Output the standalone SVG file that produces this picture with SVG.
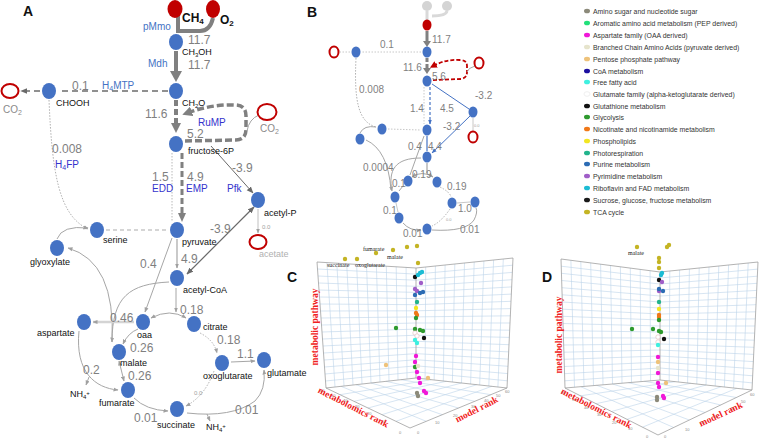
<svg xmlns="http://www.w3.org/2000/svg" width="760" height="439" viewBox="0 0 760 439">
<style>
text{font-family:"Liberation Sans",Arial,sans-serif}
.n{fill:#4472c4}
.rf{fill:#c00000}
.ro{fill:none;stroke:#c00000;stroke-width:2}
.num{fill:#7f7f7f;font-size:12px}
.nb{fill:#7f7f7f;font-size:10px}
.tiny{fill:#9a9a9a;font-size:5px}
.lbl{fill:#111;font-size:9px}
.enz{fill:#4472c4;font-size:10px}
.enz2{fill:#3333cc;font-size:10px}
.pl{font-size:14px;font-weight:bold;fill:#111}
.thin{fill:none;stroke:#a6a6a6;stroke-width:1}
.dot{fill:none;stroke:#b0b0b0;stroke-width:1;stroke-dasharray:1.5 1.5}
.thk{fill:none;stroke:#808080;stroke-width:4}
.thkd{fill:none;stroke:#808080;stroke-width:3.5;stroke-dasharray:7 3}
.blue{fill:none;stroke:#4472c4;stroke-width:1}
.grid{fill:none;stroke:#bcd3ea;stroke-width:0.6}
.edge{fill:none;stroke:#a0a0a0;stroke-width:0.8}
.ax{font-family:"Liberation Serif","Times New Roman",serif;font-weight:bold;font-size:9.5px;fill:#f02020}
.tk{font-size:4px;fill:#888}
.tl{font-family:"Liberation Serif",serif;font-size:6px;fill:#222}
.lg{font-size:6.9px;fill:#333}
.am{fill:#8c8a7a}.ar{fill:#22e07a}.as{fill:#f018d8}.br{fill:#e6e4cc}.pp{fill:#eec27a}.co{fill:#1c0fa0}.ff{fill:#3ff0e0}.gf{fill:#fff;stroke:#e0b8b8;stroke-width:0.6}.gt{fill:#111}.gl{fill:#2e9a2e}.ni{fill:#f07818}.ph{fill:#f2e622}.pr{fill:#22b48c}.pu{fill:#2c6cb4}.py{fill:#a05ec8}.ri{fill:#1cbcd4}.su{fill:#1a1a1a}.tc{fill:#c4b424}
</style>
<defs>
<marker id="ag" viewBox="0 0 10 10" refX="9" refY="5" markerWidth="5" markerHeight="5" markerUnits="userSpaceOnUse" orient="auto-start-reverse"><path d="M0,1 L10,5 L0,9 z" fill="#a0a0a0"/></marker>
<marker id="ad" viewBox="0 0 10 10" refX="9" refY="5" markerWidth="7" markerHeight="7" markerUnits="userSpaceOnUse" orient="auto-start-reverse"><path d="M0,1 L10,5 L0,9 z" fill="#6a6a6a"/></marker>
<marker id="at" viewBox="0 0 10 10" refX="5" refY="5" markerWidth="10" markerHeight="10" markerUnits="userSpaceOnUse" orient="auto"><path d="M0,0 L10,5 L0,10 z" fill="#808080"/></marker>
<marker id="ab" viewBox="0 0 10 10" refX="9" refY="5" markerWidth="5" markerHeight="5" markerUnits="userSpaceOnUse" orient="auto"><path d="M0,1 L10,5 L0,9 z" fill="#4472c4"/></marker>
<marker id="ar" viewBox="0 0 10 10" refX="5" refY="5" markerWidth="7" markerHeight="7" markerUnits="userSpaceOnUse" orient="auto"><path d="M0,0 L10,5 L0,10 z" fill="#c00000"/></marker>
</defs>

<!-- ================= PANEL A ================= -->
<text class="pl" x="23" y="16">A</text>
<g id="A-connectors">
<path class="thk" d="M178,16 L178,31 L200,31 Q210,31 213,18"/>
<line x1="176" y1="51" x2="176" y2="72" stroke="#808080" stroke-width="4"/>
<polygon points="170,71 182,71 176,82" fill="#808080"/>
<line x1="168" y1="91" x2="58" y2="91" stroke="#909090" stroke-width="1.8" stroke-dasharray="6 4"/>
<line x1="40" y1="91" x2="21" y2="91" stroke="#909090" stroke-width="1.8" stroke-dasharray="6 4" marker-end="url(#ad)"/>
<line x1="176" y1="100" x2="176" y2="124" stroke="#808080" stroke-width="4" stroke-dasharray="6 3"/>
<polygon points="171,123 181,123 176,133" fill="#808080"/>
<path class="thkd" d="M185,141 L236,140 Q246,140 246,129 L246,116 Q246,105 235,105 Q212,104 187,113" marker-end="url(#at)"/>
<path class="thin" d="M259,115 Q249,119 247,131"/>
<line x1="172" y1="153" x2="172" y2="221" stroke="#b8b8b8" stroke-width="1" stroke-dasharray="1.5 1.5"/>
<line x1="182" y1="153" x2="182" y2="214" stroke="#808080" stroke-width="3" stroke-dasharray="6 3"/>
<polygon points="178,213 186,213 182,222" fill="#808080"/>
<line x1="211" y1="146" x2="253" y2="193" stroke="#6a6a6a" stroke-width="1" marker-end="url(#ad)"/>
<line x1="254" y1="207" x2="187" y2="274" stroke="#6a6a6a" stroke-width="1.2" marker-start="url(#ad)" marker-end="url(#ad)"/>
<line x1="258" y1="209" x2="258" y2="233" stroke="#c0c0c0" stroke-width="1" marker-end="url(#ag)"/>
<path class="dot" d="M49,100 C52,170 58,215 88,229" marker-end="url(#ag)"/>
<line x1="106" y1="230" x2="168" y2="230" stroke="#c8c8c8" stroke-width="1.3" stroke-dasharray="4 3"/>
<path class="thin" d="M57,239 Q62,225 88,228" marker-end="url(#ag)"/>
<path class="thin" d="M68,248 Q116,262 112,342" marker-start="url(#ag)" marker-end="url(#ag)"/>
<path class="thin" d="M169,282 C130,284 112,296 112,342"/>
<path class="thin" d="M172,238 L145,312" marker-end="url(#ag)"/>
<line x1="177" y1="239" x2="177" y2="268" stroke="#a6a6a6" stroke-width="1.2" marker-end="url(#ag)"/>
<line x1="176" y1="288" x2="176" y2="312" stroke="#a6a6a6" stroke-width="1" marker-end="url(#ag)"/>
<path class="thin" d="M151,318 Q170,308 186,318" marker-start="url(#ag)" marker-end="url(#ag)"/>
<line x1="134" y1="322" x2="93" y2="322" stroke="#d4d4d4" stroke-width="2.5" marker-end="url(#ag)"/>
<path class="thin" d="M138,329 Q128,333 123,344" marker-end="url(#ag)"/>
<line x1="119" y1="361" x2="124" y2="381" stroke="#a6a6a6" stroke-width="1" marker-start="url(#ag)" marker-end="url(#ag)"/>
<path class="thin" d="M79,331 C75,372 95,388 118,390" marker-end="url(#ag)"/>
<path class="thin" d="M89,377 L86,385" marker-end="url(#ag)"/>
<path class="thin" d="M134,398 Q146,410 168,411" marker-end="url(#ag)"/>
<path class="dot" d="M200,333 Q214,340 217,353" marker-end="url(#ag)"/>
<line x1="231" y1="362" x2="255" y2="361" stroke="#a6a6a6" stroke-width="1" marker-end="url(#ag)"/>
<path class="dot" d="M214,371 Q205,396 186,406" marker-end="url(#ag)"/>
<path class="thin" d="M187,413 Q232,418 255,401 Q266,390 264,370" marker-end="url(#ag)"/>
<path class="thin" d="M207,414 L210,421" marker-end="url(#ag)"/>
</g>
<g id="A-nodes">
<g id="ch4"><ellipse class="rf" cx="175" cy="9" rx="7.5" ry="9"/><text x="182" y="22" font-size="12" font-weight="bold" fill="#111">CH<tspan font-size="8" dy="2">4</tspan></text></g>
<g id="o2"><ellipse class="rf" cx="213" cy="9" rx="7" ry="9"/><text x="220" y="24" font-size="12" font-weight="bold" fill="#111">O<tspan font-size="8" dy="2">2</tspan></text></g>
<g id="ch3oh"><ellipse class="n" cx="176" cy="42" rx="7" ry="8"/><text class="lbl" x="182" y="55">CH<tspan font-size="6" dy="1.5">3</tspan><tspan dy="-1.5">OH</tspan></text></g>
<g id="ch2o"><ellipse class="n" cx="176" cy="91" rx="7" ry="8"/><text class="lbl" x="182" y="106">CH<tspan font-size="6" dy="1.5">2</tspan><tspan dy="-1.5">O</tspan></text></g>
<g id="chooh"><ellipse class="n" cx="49" cy="91" rx="7" ry="8"/><text class="lbl" x="56" y="106">CHOOH</text></g>
<g id="co2a"><ellipse class="ro" cx="10" cy="91" rx="8.5" ry="7"/><text x="3" y="113" font-size="10" fill="#8a8a8a">CO<tspan font-size="7" dy="2">2</tspan></text></g>
<g id="co2b"><ellipse class="ro" cx="267" cy="112" rx="9.5" ry="8"/><text x="260" y="132" font-size="10" fill="#8a8a8a">CO<tspan font-size="7" dy="2">2</tspan></text></g>
<g id="f6p"><ellipse class="n" cx="176" cy="144" rx="7" ry="8"/><text class="lbl" x="188" y="154">fructose-6P</text></g>
<g id="acetylp"><ellipse class="n" cx="258" cy="200" rx="7" ry="8"/><text class="lbl" x="264" y="216">acetyl-P</text></g>
<g id="acetate"><ellipse class="ro" cx="258" cy="242" rx="8.5" ry="7"/><text x="259" y="257" font-size="9" fill="#b0b0b0">acetate</text></g>
<g id="serine"><ellipse class="n" cx="97" cy="230" rx="7" ry="8"/><text class="lbl" x="103" y="243">serine</text></g>
<g id="glyoxylate"><ellipse class="n" cx="57" cy="248" rx="7" ry="8"/><text class="lbl" x="30" y="265">glyoxylate</text></g>
<g id="pyruvate"><ellipse class="n" cx="177" cy="230" rx="7" ry="8"/><text class="lbl" x="182" y="245">pyruvate</text></g>
<g id="acetylcoa"><ellipse class="n" cx="177" cy="278" rx="7" ry="8"/><text class="lbl" x="183" y="293">acetyl-CoA</text></g>
<g id="aspartate"><ellipse class="n" cx="84" cy="322" rx="7" ry="8"/><text class="lbl" x="37" y="336">aspartate</text></g>
<g id="oaa"><ellipse class="n" cx="143" cy="322" rx="7" ry="8"/><text class="lbl" x="137" y="338">oaa</text></g>
<g id="citrate"><ellipse class="n" cx="194" cy="324" rx="7" ry="8"/><text class="lbl" x="203" y="330">citrate</text></g>
<g id="malate"><ellipse class="n" cx="119" cy="352" rx="7" ry="8"/><text class="lbl" x="120" y="366">malate</text></g>
<g id="oxoglutarate"><ellipse class="n" cx="222" cy="363" rx="7" ry="8"/><text class="lbl" x="203" y="379">oxoglutarate</text></g>
<g id="glutamate"><ellipse class="n" cx="264" cy="360" rx="7" ry="8"/><text class="lbl" x="267" y="376">glutamate</text></g>
<g id="fumarate"><ellipse class="n" cx="128" cy="390" rx="7" ry="8"/><text class="lbl" x="99" y="406">fumarate</text></g>
<g id="succinate"><ellipse class="n" cx="177" cy="409" rx="7" ry="8"/><text class="lbl" x="157" y="428">succinate</text></g>
</g>
<g id="A-labels">
<text class="enz" x="143" y="30">pMmo</text>
<text class="enz" x="148" y="67">Mdh</text>
<text class="enz" x="102" y="89">H<tspan font-size="7" dy="2">4</tspan><tspan dy="-2">MTP</tspan></text>
<text class="enz2" x="198" y="126">RuMP</text>
<text class="enz2" x="152" y="192">EDD</text>
<text class="enz2" x="186" y="192">EMP</text>
<text class="enz2" x="227" y="192">Pfk</text>
<text class="enz2" x="55" y="168">H<tspan font-size="7" dy="2">4</tspan><tspan dy="-2">FP</tspan></text>
<text class="num" x="188" y="44">11.7</text>
<text class="num" x="188" y="69">11.7</text>
<text class="num" x="72" y="90">0.1</text>
<text class="num" x="145" y="118">11.6</text>
<text class="num" x="187" y="138">5.2</text>
<text class="num" x="232" y="172">-3.9</text>
<text class="num" x="152" y="181">1.5</text>
<text class="num" x="187" y="181">4.9</text>
<text class="num" x="52" y="153">0.008</text>
<text class="num" x="210" y="233">-3.9</text>
<text x="262" y="229" font-size="6" fill="#a0a0a0">0.0</text>
<text class="num" x="181" y="263">4.9</text>
<text class="num" x="140" y="268">0.4</text>
<text class="num" x="110" y="322">0.46</text>
<text class="num" x="180" y="314">0.18</text>
<text class="num" x="217" y="344">0.18</text>
<text class="num" x="130" y="352">0.26</text>
<text class="num" x="128" y="380">0.26</text>
<text class="num" x="237" y="358">1.1</text>
<text class="num" x="83" y="374">0.2</text>
<text class="num" x="134" y="422">0.01</text>
<text class="num" x="235" y="414">0.01</text>
<text x="194" y="395" font-size="6" fill="#a0a0a0">0.0</text>
<text class="lbl" x="70" y="397">NH<tspan font-size="6" dy="1.5">4</tspan><tspan font-size="6" dy="-4">+</tspan></text>
<text class="lbl" x="206" y="430">NH<tspan font-size="6" dy="1.5">4</tspan><tspan font-size="6" dy="-4">+</tspan></text>
</g>

<!-- ================= PANEL B ================= -->
<text class="pl" x="307" y="17">B</text>
<g id="B-connectors">
<path d="M427,11 L427,21 M447,11 Q446,16 432,16" fill="none" stroke="#d9d9d9" stroke-width="3"/>
<line x1="427" y1="31" x2="427" y2="42" stroke="#808080" stroke-width="3"/>
<polygon points="423,41 431,41 427,47" fill="#808080"/>
<line x1="421" y1="52" x2="362" y2="52" stroke="#c8c8c8" stroke-width="1" stroke-dasharray="1.5 1.5"/>
<line x1="350" y1="52" x2="340" y2="52" stroke="#c8c8c8" stroke-width="1" stroke-dasharray="1.5 1.5"/>
<line x1="427" y1="58" x2="427" y2="69" stroke="#808080" stroke-width="3" stroke-dasharray="4 2"/>
<polygon points="423,68 431,68 427,74" fill="#808080"/>
<path d="M433,80 L461,79 Q467,78 467,72 L467,66 Q467,60 460,60 Q446,59 433,66" fill="none" stroke="#c00000" stroke-width="1.8" stroke-dasharray="4 2" marker-end="url(#ar)"/>
<path class="thin" d="M475,66 Q468,68 467,72"/>
<line x1="432" y1="84" x2="469" y2="109" stroke="#4472c4" stroke-width="1"/>
<line x1="473" y1="118" x2="473" y2="131" stroke="#c8c8c8" stroke-width="1"/>
<line x1="424" y1="87" x2="424" y2="124" stroke="#c8c8c8" stroke-width="1" stroke-dasharray="1.5 1.5"/>
<line x1="430" y1="87" x2="430" y2="124" stroke="#4472c4" stroke-width="1.2" stroke-dasharray="3 2" marker-end="url(#ab)"/>
<line x1="470" y1="116" x2="432" y2="153" stroke="#4472c4" stroke-width="1" marker-end="url(#ab)"/>
<line x1="388" y1="129" x2="421" y2="130" stroke="#c8c8c8" stroke-width="1" stroke-dasharray="1.5 1.5"/>
<path class="dot" d="M356,58 C354,100 358,122 376,127"/>
<path class="thin" d="M360,133 Q364,125 376,127" stroke="#c8c8c8"/>
<line x1="427" y1="136" x2="427" y2="151" stroke="#4472c4" stroke-width="1.2"/>
<path class="thin" d="M424,136 L410,175" stroke="#c8c8c8"/>
<line x1="427" y1="163" x2="427" y2="173" stroke="#c8c8c8" stroke-width="2"/>
<path class="thin" d="M412,177 Q422,170 433,177" stroke="#c8c8c8" marker-start="url(#ag)" marker-end="url(#ag)"/>
<path class="thin" d="M421,158 C395,158 388,170 392,191" stroke="#c8c8c8" marker-end="url(#ag)"/>
<path class="thin" d="M366,140 Q388,150 391,190" stroke="#c8c8c8"/>
<path class="thin" d="M403,186 L399,191" stroke="#c8c8c8"/>
<path class="dot" d="M440,187 Q450,192 451,197"/>
<line x1="457" y1="203" x2="470" y2="202" stroke="#c8c8c8" stroke-width="1"/>
<line x1="396" y1="203" x2="398" y2="212" stroke="#c8c8c8" stroke-width="1"/>
<path class="thin" d="M403,223 Q410,231 421,230" stroke="#c8c8c8" marker-end="url(#ag)"/>
<path class="dot" d="M450,209 Q441,222 432,226"/>
<path class="thin" d="M432,230 Q466,232 474,220 Q478,212 476,208" stroke="#c8c8c8"/>
</g>
<g id="B-nodes">
<circle cx="427" cy="6" r="5" fill="#d4d4d4"/>
<circle cx="447" cy="6" r="5" fill="#d4d4d4"/>
<ellipse class="rf" cx="427" cy="25" rx="4.5" ry="5.5"/>
<ellipse class="n" cx="427" cy="52" rx="4.5" ry="5.5"/>
<ellipse class="n" cx="356" cy="52" rx="4.5" ry="5.5"/>
<ellipse class="ro" cx="334" cy="52" rx="4.5" ry="5.5" stroke-width="1.3"/>
<ellipse class="n" cx="427" cy="81" rx="4.5" ry="5.5"/>
<ellipse class="ro" cx="479" cy="63" rx="4.5" ry="5.5" stroke-width="1.3"/>
<ellipse class="n" cx="473" cy="112" rx="4.5" ry="5.5"/>
<ellipse class="ro" cx="473" cy="137" rx="4.5" ry="5.5" stroke-width="1.3"/>
<ellipse class="n" cx="427" cy="130" rx="4.5" ry="5.5"/>
<ellipse class="n" cx="382" cy="129" rx="4.5" ry="5.5"/>
<ellipse class="n" cx="360" cy="139" rx="4.5" ry="5.5"/>
<ellipse class="n" cx="427" cy="157" rx="4.5" ry="5.5"/>
<ellipse class="n" cx="408" cy="181" rx="4.5" ry="5.5"/>
<ellipse class="n" cx="437" cy="182" rx="4.5" ry="5.5"/>
<ellipse class="n" cx="395" cy="197" rx="4.5" ry="5.5"/>
<ellipse class="n" cx="452" cy="203" rx="4.5" ry="5.5"/>
<ellipse class="n" cx="475" cy="202" rx="4.5" ry="5.5"/>
<ellipse class="n" cx="399" cy="218" rx="4.5" ry="5.5"/>
<ellipse class="n" cx="427" cy="229" rx="4.5" ry="5.5"/>
</g>
<g id="B-labels">
<text class="nb" x="432" y="43">11.7</text>
<text class="nb" x="380" y="48">0.1</text>
<text class="nb" x="403" y="71">11.6</text>
<text class="nb" x="432" y="80">5.6</text>
<text class="nb" x="475" y="99">-3.2</text>
<text class="nb" x="359" y="93">0.008</text>
<text class="nb" x="410" y="112">1.4</text>
<text class="nb" x="440" y="112">4.5</text>
<text class="nb" x="443" y="130">-3.2</text>
<text x="474" y="127" font-size="4" fill="#a0a0a0">0.0</text>
<text class="nb" x="408" y="150">0.4</text>
<text class="nb" x="428" y="150">4.4</text>
<text class="nb" x="363" y="171">0.0004</text>
<text class="nb" x="412" y="178">0.19</text>
<text class="nb" x="447" y="190">0.19</text>
<text class="nb" x="392" y="187">0.1</text>
<text class="nb" x="458" y="212">1.0</text>
<text class="nb" x="383" y="214">0.1</text>
<text class="nb" x="403" y="237">0.01</text>
<text class="nb" x="460" y="233">0.01</text>
<text x="446" y="221" font-size="4" fill="#a0a0a0">0.0</text>
</g>

<!-- ================= LEGEND ================= -->
<g id="legend">
<ellipse class="am" cx="587" cy="11" rx="3" ry="2.3"/><text class="lg" x="593" y="13.5">Amino sugar and nucleotide sugar</text>
<ellipse class="ar" cx="587" cy="23" rx="3" ry="2.3"/><text class="lg" x="593" y="25.5">Aromatic amino acid metabolism (PEP derived)</text>
<ellipse class="as" cx="587" cy="35" rx="3" ry="2.3"/><text class="lg" x="593" y="37.5">Aspartate family (OAA derived)</text>
<ellipse class="br" cx="587" cy="47" rx="3" ry="2.3"/><text class="lg" x="593" y="49.5">Branched Chain Amino Acids (pyruvate derived)</text>
<ellipse class="pp" cx="587" cy="59" rx="3" ry="2.3"/><text class="lg" x="593" y="61.5">Pentose phosphate pathway</text>
<ellipse class="co" cx="587" cy="71" rx="3" ry="2.3"/><text class="lg" x="593" y="73.5">CoA metabolism</text>
<ellipse class="ff" cx="587" cy="82" rx="3" ry="2.3"/><text class="lg" x="593" y="84.5">Free fatty acid</text>
<ellipse cx="587" cy="94" rx="3" ry="2.3" fill="#fff" stroke="#e4e4e4" stroke-width="0.6"/><text class="lg" x="593" y="96.5">Glutamate family (alpha-ketoglutarate derived)</text>
<ellipse class="gt" cx="587" cy="106" rx="3" ry="2.3"/><text class="lg" x="593" y="108.5">Glutathione metabolism</text>
<ellipse class="gl" cx="587" cy="117" rx="3" ry="2.3"/><text class="lg" x="593" y="119.5">Glycolysis</text>
<ellipse class="ni" cx="587" cy="129" rx="3" ry="2.3"/><text class="lg" x="593" y="131.5">Nicotinate and nicotinamide metabolism</text>
<ellipse class="ph" cx="587" cy="141" rx="3" ry="2.3"/><text class="lg" x="593" y="143.5">Phospholipids</text>
<ellipse class="pr" cx="587" cy="153" rx="3" ry="2.3"/><text class="lg" x="593" y="155.5">Photorespiration</text>
<ellipse class="pu" cx="587" cy="164" rx="3" ry="2.3"/><text class="lg" x="593" y="166.5">Purine metabolism</text>
<ellipse class="py" cx="587" cy="176" rx="3" ry="2.3"/><text class="lg" x="593" y="178.5">Pyrimidine metabolism</text>
<ellipse class="ri" cx="587" cy="188" rx="3" ry="2.3"/><text class="lg" x="593" y="190.5">Riboflavin and FAD metabolism</text>
<ellipse class="su" cx="587" cy="200" rx="3" ry="2.3"/><text class="lg" x="593" y="202.5">Sucrose, glucose, fructose metabolism</text>
<ellipse class="tc" cx="587" cy="212" rx="3" ry="2.3"/><text class="lg" x="593" y="214.5">TCA cycle</text>
</g>

<!-- ================= PANEL C ================= -->
<text class="pl" x="287" y="282" font-size="16">C</text>
<g id="C-plot">
<path class="grid" d="M317.5,269L416,274.1M318,276L416,280.2M318.5,283L416,286.3M319,290L416,292.4M319.5,297L416,298.6M320,304L416,304.7M320.5,311L416,310.8M321,318L416,316.9M321.5,325L416,323M322,332L416,329.1M322.5,339L416,335.2M323,346L416,341.3M323.5,353L416,347.4M324,360L416,353.6M324.5,367L416,359.7M325,374L416,365.8M325.5,381L416,371.9
M326.9,262.6L335,387M336.8,263.2L344,386M346.7,263.8L353,385M356.6,264.4L362,384M366.5,265L371,383M376.4,265.6L380,382M386.3,266.2L389,381M396.2,266.8L398,380M406.1,267.4L407,379
M416,274.1L512.7,265.2M416,280.2L512.3,272.4M416,286.3L512,279.7M416,292.4L511.7,286.9M416,298.6L511.3,294.1M416,304.7L511,301.3M416,310.8L510.7,308.6M416,316.9L510.3,315.8M416,323L510,323M416,329.1L509.7,330.2M416,335.2L509.3,337.4M416,341.3L509,344.7M416,347.4L508.7,351.9M416,353.6L508.3,359.1M416,359.7L508,366.3M416,365.8L507.7,373.6M416,371.9L507.3,380.8
M425.7,267L425.1,379M435.4,266L434.2,380M445.1,265L443.3,381M454.8,264L452.4,382M464.5,263L461.5,383M474.2,262L470.6,384M483.9,261L479.7,385M493.6,260L488.8,386M503.3,259L497.9,387
M431.2,379.7L340,394.7M446.3,381.3L354,401.3M461.5,383L368,408M476.7,384.7L382,414.7M491.8,386.3L396,421.3
M401,379.7L490.8,394.7M386,381.3L474.7,401.3M371,383L458.5,408M356,384.7L442.3,414.7M341,386.3L426.2,421.3"/>
<path class="edge" d="M317,262L416,268L513,258M317,262L326,388L410,428L507,388L513,258M416,268L416,378M326,388L416,378L507,388"/>
<text class="tk" x="320" y="392">60</text><text class="tk" x="331" y="397">50</text><text class="tk" x="343" y="402">40</text><text class="tk" x="355" y="408">30</text><text class="tk" x="367" y="415">20</text><text class="tk" x="381" y="423">10</text><text class="tk" x="399" y="434">0</text>
<text class="tk" x="417" y="434">0</text><text class="tk" x="435" y="424">10</text><text class="tk" x="453" y="417">20</text><text class="tk" x="471" y="408">30</text><text class="tk" x="484" y="402">40</text><text class="tk" x="496" y="397">50</text><text class="tk" x="505" y="393">60</text>
<text class="ax" transform="translate(318,327) rotate(-90)" text-anchor="middle">metabolic pathway</text>
<text class="ax" transform="translate(352,410) rotate(27)" text-anchor="middle">metabolomics rank</text>
<text class="ax" transform="translate(478,412) rotate(-27)" text-anchor="middle">model rank</text>
<text class="tl" x="363" y="251">fumarate</text>
<text class="tl" x="387" y="259">malate</text>
<text class="tl" x="327" y="267">succinate</text>
<text class="tl" x="355" y="267">oxoglutarate</text>
<g id="C-dots">
<circle class="tc" cx="376" cy="253" r="2.2"/><circle class="tc" cx="393" cy="250" r="2.2"/><circle class="tc" cx="407" cy="247" r="2.2"/><circle class="tc" cx="417" cy="246" r="2.2"/><circle class="tc" cx="345" cy="259" r="2.2"/><circle class="tc" cx="357" cy="259" r="2.2"/><circle class="tc" cx="418" cy="263" r="2.2"/>
<circle class="gt" cx="415" cy="277" r="2.2"/>
<circle class="ri" cx="418" cy="275" r="2.2"/><circle class="ri" cx="420" cy="273" r="2.2"/><circle class="ri" cx="422" cy="272" r="2.2"/>
<circle class="py" cx="421" cy="283" r="2.2"/><circle class="py" cx="415" cy="289" r="2.2"/><circle class="py" cx="417" cy="291" r="2.2"/>
<circle class="pu" cx="415" cy="295" r="2.2"/><circle class="pu" cx="420" cy="293" r="2.2"/><circle class="pu" cx="423" cy="292" r="2.2"/>
<circle class="pr" cx="417" cy="302" r="2.2"/>
<circle class="ph" cx="416" cy="308" r="2.2"/>
<circle class="ni" cx="416" cy="313" r="2.2"/><circle class="ni" cx="417" cy="315" r="2.2"/>
<circle class="gl" cx="416" cy="318" r="2.2"/><circle class="gl" cx="396" cy="328" r="2.2"/><circle class="gl" cx="415" cy="329" r="2.2"/><circle class="gl" cx="420" cy="330" r="2.2"/><circle class="gl" cx="423" cy="331" r="2.2"/>
<circle class="gf" cx="415" cy="333" r="2.2"/><circle class="gf" cx="417" cy="336" r="2.2"/>
<circle class="gt" cx="424" cy="338" r="2.2"/>
<circle class="ff" cx="415" cy="340" r="2.2"/><circle class="ff" cx="417" cy="343" r="2.2"/>
<circle class="as" cx="416" cy="356" r="2.2"/>
<circle class="pp" cx="386" cy="365" r="2.2"/>
<circle class="as" cx="415" cy="362" r="2.2"/>
<circle class="gl" cx="415" cy="367" r="2.2"/><circle class="br" cx="418" cy="366" r="2.2"/>
<circle class="as" cx="417" cy="372" r="2.2"/>
<circle class="as" cx="419" cy="378" r="2.2"/><circle class="pp" cx="428" cy="378" r="2.2"/>
<circle class="as" cx="420" cy="383" r="2.2"/>
<circle class="as" cx="424" cy="391" r="2.2"/><circle class="as" cx="426" cy="393" r="2.2"/>
<circle class="am" cx="417" cy="393" r="2.2"/><circle class="am" cx="418" cy="396" r="2.2"/>
</g>
</g>

<!-- ================= PANEL D ================= -->
<text class="pl" x="542" y="282" font-size="16">D</text>
<g id="D-plot">
<path class="grid" d="M561.2,266.2L660,278M561.4,273.3L660,284M561.7,280.5L660,290M561.9,287.7L660,296M562.1,294.8L660,302M562.3,302L660,308M562.6,309.2L660,314M562.8,316.3L660,320M563,323.5L660,326M563.2,330.7L660,332M563.4,337.8L660,338M563.7,345L660,344M563.9,352.2L660,350M564.1,359.3L660,356M564.3,366.5L660,362M564.6,373.7L660,368M564.8,380.8L660,374
M570.9,260.3L574.5,387.2M580.8,261.6L584,386.4M590.7,262.9L593.5,385.6M600.6,264.2L603,384.8M610.5,265.5L612.5,384M620.4,266.8L622,383.2M630.3,268.1L631.5,382.4M640.2,269.4L641,381.6M650.1,270.7L650.5,380.8
M660,278L757.7,269.1M660,284L757.3,276.2M660,290L757,283.3M660,296L756.7,290.4M660,302L756.3,297.6M660,308L756,304.7M660,314L755.7,311.8M660,320L755.3,318.9M660,326L755,326M660,332L754.7,333.1M660,338L754.3,340.2M660,344L754,347.3M660,350L753.7,354.4M660,356L753.3,361.6M660,362L753,368.7M660,368L752.7,375.8M660,374L752.3,382.9
M669.8,271L669.2,381M679.6,270L678.4,382M689.4,269L687.6,383M699.2,268L696.8,384M709,267L706,385M718.8,266L715.2,386M728.6,265L724.4,387M738.4,264L733.6,388M748.2,263L742.8,389
M675.3,381.7L580.5,395.8M690.7,383.3L596,403.7M706,385L611.5,411.5M721.3,386.7L627,419.3M736.7,388.3L642.5,427.2
M644.2,381.3L736.3,397.5M628.3,382.7L720.7,405M612.5,384L705,412.5M596.7,385.3L689.3,420M580.8,386.7L673.7,427.5"/>
<path class="edge" d="M561,259L660,272L758,262M561,259L565,388L658,435L752,390L758,262M660,272L660,380M565,388L660,380L752,390"/>
<text class="tk" x="561" y="394">60</text><text class="tk" x="572" y="401">50</text><text class="tk" x="584" y="409">40</text><text class="tk" x="597" y="416">30</text><text class="tk" x="612" y="424">20</text><text class="tk" x="628" y="430">10</text><text class="tk" x="646" y="438">0</text>
<text class="tk" x="664" y="438">0</text><text class="tk" x="685" y="431">10</text><text class="tk" x="700" y="424">20</text><text class="tk" x="713" y="418">30</text><text class="tk" x="730" y="410">40</text><text class="tk" x="741" y="403">50</text><text class="tk" x="750" y="396">60</text>
<text class="ax" transform="translate(562,335) rotate(-90)" text-anchor="middle">metabolic pathway</text>
<text class="ax" transform="translate(595,411) rotate(27)" text-anchor="middle">metabolomics rank</text>
<text class="ax" transform="translate(722,417) rotate(-25)" text-anchor="middle">model rank</text>
<text class="tl" x="628" y="255">malate</text>
<g id="D-dots">
<circle class="tc" cx="637" cy="247" r="2.2"/><circle class="tc" cx="667" cy="247" r="2.2"/><circle class="tc" cx="669" cy="245" r="2.2"/><circle class="tc" cx="659" cy="258" r="2.2"/><circle class="tc" cx="659" cy="262" r="2.2"/><circle class="tc" cx="659" cy="268" r="2.2"/>
<circle class="ri" cx="662" cy="273" r="2.2"/><circle class="ri" cx="661" cy="275" r="2.2"/>
<circle class="gt" cx="659" cy="280" r="2.2"/>
<circle class="py" cx="662" cy="282" r="2.2"/>
<circle class="py" cx="659" cy="291" r="2.2"/><circle class="pu" cx="659" cy="289" r="2.2"/><circle class="pu" cx="663" cy="291" r="2.2"/>
<circle class="pr" cx="659" cy="302" r="2.2"/>
<circle class="ph" cx="659" cy="309" r="2.2"/>
<circle class="ni" cx="659" cy="315" r="2.2"/><circle class="ni" cx="659" cy="317" r="2.2"/>
<circle class="gl" cx="659" cy="320" r="2.2"/><circle class="gl" cx="632" cy="329" r="2.2"/><circle class="gl" cx="653" cy="329" r="2.2"/><circle class="gl" cx="659" cy="331" r="2.2"/><circle class="gl" cx="661" cy="332" r="2.2"/>
<circle class="gf" cx="658" cy="337" r="2.2"/><circle class="gf" cx="658" cy="342" r="2.2"/>
<circle class="gt" cx="664" cy="339" r="2.2"/>
<circle class="ff" cx="658" cy="345" r="2.2"/>
<circle class="as" cx="658" cy="357" r="2.2"/><circle class="pp" cx="658" cy="362" r="2.2"/><circle class="br" cx="658" cy="368" r="2.2"/><circle class="as" cx="658" cy="373" r="2.2"/>
<circle class="as" cx="658" cy="383" r="2.2"/><circle class="pp" cx="666" cy="383" r="2.2"/>
<circle class="as" cx="659" cy="387" r="2.2"/>
<circle class="as" cx="663" cy="396" r="2.2"/><circle class="as" cx="664" cy="398" r="2.2"/>
<circle class="am" cx="657" cy="397" r="2.2"/><circle class="am" cx="657" cy="400" r="2.2"/>
</g>
</g>
</svg>
